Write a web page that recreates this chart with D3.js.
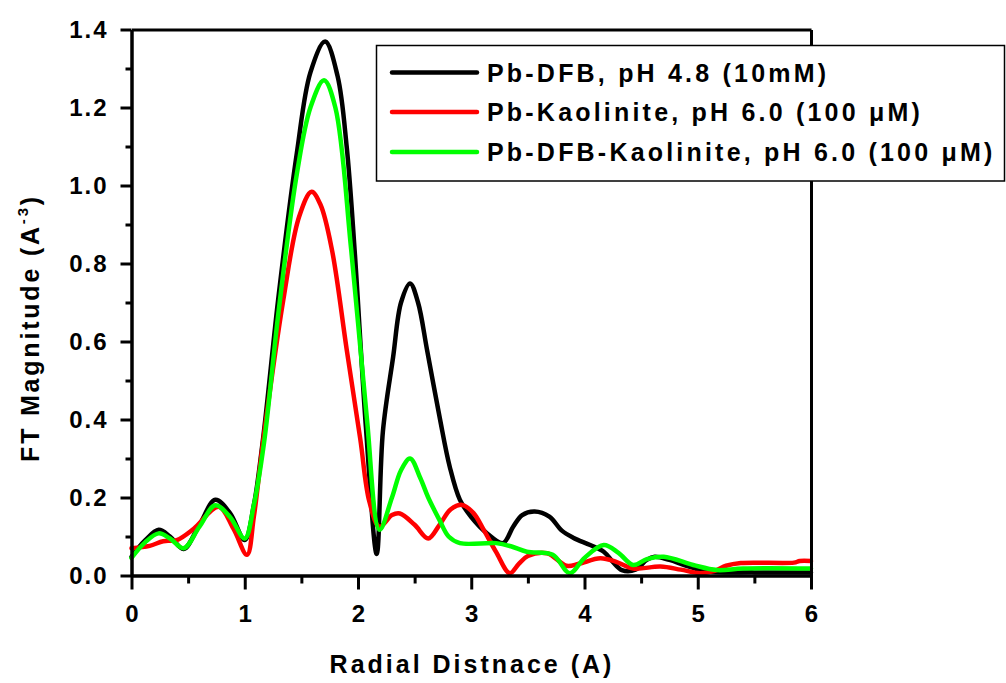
<!DOCTYPE html>
<html>
<head>
<meta charset="utf-8">
<script src="https://cdn.jsdelivr.net/npm/d3@7"></script>
<style>
  html, body { margin: 0; padding: 0; background: #fff; }
  svg { display: block; font-family: "Liberation Sans", Arial, sans-serif; font-weight: bold; }
</style>
</head>
<body>
<svg id="chart" width="1006" height="683"></svg>
<script>
// Fourier-transform magnitude vs. radial distance, three Pb samples
const seriesNames = [
  "Pb-DFB, pH 4.8 (10mM)",
  "Pb-Kaolinite, pH 6.0 (100 \u03BCM)",
  "Pb-DFB-Kaolinite, pH 6.0 (100 \u03BCM)"
];
const seriesColors = ["#000000", "#ff0000", "#00ff00"];

const dfbR  = [0.00,0.12,0.24,0.34,0.46,0.60,0.74,0.87,1.00,1.08,1.16,1.30,1.46,1.58,1.71,1.82,1.90,1.97,2.07,2.165,2.22,2.31,2.38,2.46,2.53,2.61,2.72,2.81,2.90,3.00,3.14,3.28,3.37,3.45,3.56,3.69,3.80,3.90,4.05,4.17,4.25,4.33,4.45,4.55,4.62,4.75,4.90,5.10,5.50,6.00];
const dfbFT = [0.048,0.090,0.117,0.100,0.068,0.130,0.194,0.160,0.091,0.180,0.347,0.720,1.083,1.290,1.369,1.280,1.100,0.835,0.380,0.055,0.370,0.560,0.700,0.749,0.700,0.578,0.407,0.279,0.194,0.150,0.108,0.083,0.125,0.155,0.164,0.151,0.115,0.097,0.078,0.061,0.035,0.014,0.015,0.040,0.048,0.040,0.025,0.010,0.008,0.008];

const kaoR  = [0.00,0.16,0.28,0.40,0.55,0.77,0.90,1.02,1.08,1.16,1.34,1.48,1.59,1.67,1.77,1.90,2.02,2.10,2.19,2.30,2.37,2.50,2.62,2.72,2.82,2.92,3.02,3.11,3.22,3.34,3.42,3.50,3.67,3.84,3.95,4.14,4.28,4.43,4.67,4.85,5.02,5.15,5.25,5.38,5.85,5.90,6.00];
const kaoFT = [0.070,0.076,0.088,0.091,0.120,0.176,0.120,0.053,0.150,0.339,0.706,0.920,0.984,0.950,0.835,0.580,0.350,0.190,0.125,0.155,0.159,0.130,0.095,0.130,0.170,0.181,0.160,0.117,0.060,0.006,0.030,0.050,0.057,0.025,0.030,0.044,0.035,0.018,0.023,0.015,0.006,0.012,0.025,0.032,0.033,0.037,0.037];

const mixR  = [0.00,0.12,0.24,0.34,0.46,0.60,0.74,0.87,1.00,1.08,1.17,1.30,1.46,1.58,1.70,1.80,1.94,2.077,2.19,2.30,2.38,2.46,2.55,2.62,2.72,2.80,2.90,3.22,3.35,3.49,3.72,3.87,4.00,4.17,4.30,4.43,4.55,4.70,4.96,5.17,5.40,6.00];
const mixFT = [0.045,0.085,0.108,0.095,0.070,0.125,0.180,0.150,0.095,0.180,0.340,0.680,1.030,1.200,1.270,1.200,0.835,0.407,0.117,0.200,0.270,0.300,0.250,0.200,0.142,0.100,0.083,0.083,0.075,0.061,0.053,0.006,0.045,0.078,0.058,0.027,0.042,0.048,0.027,0.014,0.018,0.018];

const xMajorTicks = [0, 1, 2, 3, 4, 5, 6];
const xMinorTicks = [0.5, 1.5, 2.5, 3.5, 4.5, 5.5];
const yMajorTicks = [0.0, 0.2, 0.4, 0.6, 0.8, 1.0, 1.2, 1.4];
const yMinorTicks = [0.1, 0.3, 0.5, 0.7, 0.9, 1.1, 1.3];

const xTitle = "Radial Distnace (A)";

const series = [
  { name: seriesNames[0], color: seriesColors[0], r: dfbR, ft: dfbFT },
  { name: seriesNames[1], color: seriesColors[1], r: kaoR, ft: kaoFT },
  { name: seriesNames[2], color: seriesColors[2], r: mixR, ft: mixFT }
];

const svg = d3.select("#chart");
const plotLeft = 131.5, plotRight = 811, plotTop = 29.5, plotBottom = 575.5;

const x = d3.scaleLinear().domain([0, 6]).range([plotLeft, plotRight]);
const y = d3.scaleLinear().domain([0, 1.4]).range([plotBottom, plotTop]);

// data lines
const line = d3.line()
  .x((d) => x(d[0]))
  .y((d) => y(d[1]))
  .curve(d3.curveCatmullRom.alpha(0.5));

const plot = svg.append("g");
series.forEach((s) => {
  const pts = s.r.map((r, i) => [r, s.ft[i]]);
  plot.append("path")
    .datum(pts)
    .attr("fill", "none")
    .attr("stroke", s.color)
    .attr("stroke-width", 4.5)
    .attr("stroke-linejoin", "round")
    .attr("stroke-linecap", "round")
    .attr("d", line);
});

// frame (top and right)
svg.append("g")
  .attr("transform", `translate(0,${plotTop})`)
  .call(d3.axisTop(x).tickValues([]).tickSizeOuter(0))
  .call((g) => g.select(".domain").attr("stroke-width", 3));
svg.append("g")
  .attr("transform", `translate(${plotRight},0)`)
  .call(d3.axisRight(y).tickValues([]).tickSizeOuter(0))
  .call((g) => g.select(".domain").attr("stroke-width", 3));

// bottom axis
const xAxisG = svg.append("g").attr("transform", `translate(0,${plotBottom})`);
xAxisG.append("g")
  .call(d3.axisBottom(x).tickValues(xMinorTicks).tickSize(8).tickFormat("").tickSizeOuter(0))
  .call((g) => g.select(".domain").remove())
  .call((g) => g.selectAll("line").attr("stroke-width", 3));
xAxisG.append("g")
  .call(d3.axisBottom(x).tickValues(xMajorTicks).tickSize(14).tickPadding(15).tickFormat(d3.format("d")).tickSizeOuter(0))
  .call((g) => g.select(".domain").attr("stroke-width", 3.5))
  .call((g) => g.selectAll("line").attr("stroke-width", 3))
  .call((g) => g.selectAll("text")
    .attr("font-size", 24).attr("font-weight", "bold")
    .attr("font-family", "'Liberation Sans', Arial, sans-serif")
    .attr("fill", "#000"));

// left axis
const yAxisG = svg.append("g").attr("transform", `translate(${plotLeft},0)`);
yAxisG.append("g")
  .call(d3.axisLeft(y).tickValues(yMinorTicks).tickSize(6).tickFormat("").tickSizeOuter(0))
  .call((g) => g.select(".domain").remove())
  .call((g) => g.selectAll("line").attr("stroke-width", 3));
yAxisG.append("g")
  .call(d3.axisLeft(y).tickValues(yMajorTicks).tickSize(11).tickPadding(12).tickFormat(d3.format(".1f")).tickSizeOuter(0))
  .call((g) => g.select(".domain").attr("stroke-width", 3.5))
  .call((g) => g.selectAll("line").attr("stroke-width", 3))
  .call((g) => g.selectAll("text")
    .attr("font-size", 24).attr("font-weight", "bold")
    .attr("letter-spacing", 2)
    .attr("font-family", "'Liberation Sans', Arial, sans-serif")
    .attr("fill", "#000"));

// axis titles
svg.append("text")
  .attr("x", 472).attr("y", 673)
  .attr("text-anchor", "middle")
  .attr("font-size", 25)
  .attr("letter-spacing", 3)
  .text(xTitle);

const yt = svg.append("text")
  .attr("transform", "translate(39,328) rotate(-90)")
  .attr("text-anchor", "middle")
  .attr("font-size", 25)
  .attr("letter-spacing", 2.8);
yt.append("tspan").text("FT Magnitude (A");
yt.append("tspan").attr("font-size", 15).attr("dy", -11).text("-3");
yt.append("tspan").attr("dy", 11).text(")");

// legend
const legend = svg.append("g");
legend.append("rect")
  .attr("x", 376.5).attr("y", 45.5)
  .attr("width", 628).attr("height", 135.5)
  .attr("fill", "#fff").attr("stroke", "#000").attr("stroke-width", 1.5);
const rowY = [72.5, 112, 152];
series.forEach((s, i) => {
  legend.append("line")
    .attr("x1", 392).attr("x2", 477)
    .attr("y1", rowY[i]).attr("y2", rowY[i])
    .attr("stroke", s.color).attr("stroke-width", 4.5)
    .attr("stroke-linecap", "round");
  legend.append("text")
    .attr("x", 487).attr("y", rowY[i] + 9)
    .attr("font-size", 25)
    .attr("letter-spacing", 3.2)
    .text(s.name);
});
</script>
</body>
</html>
